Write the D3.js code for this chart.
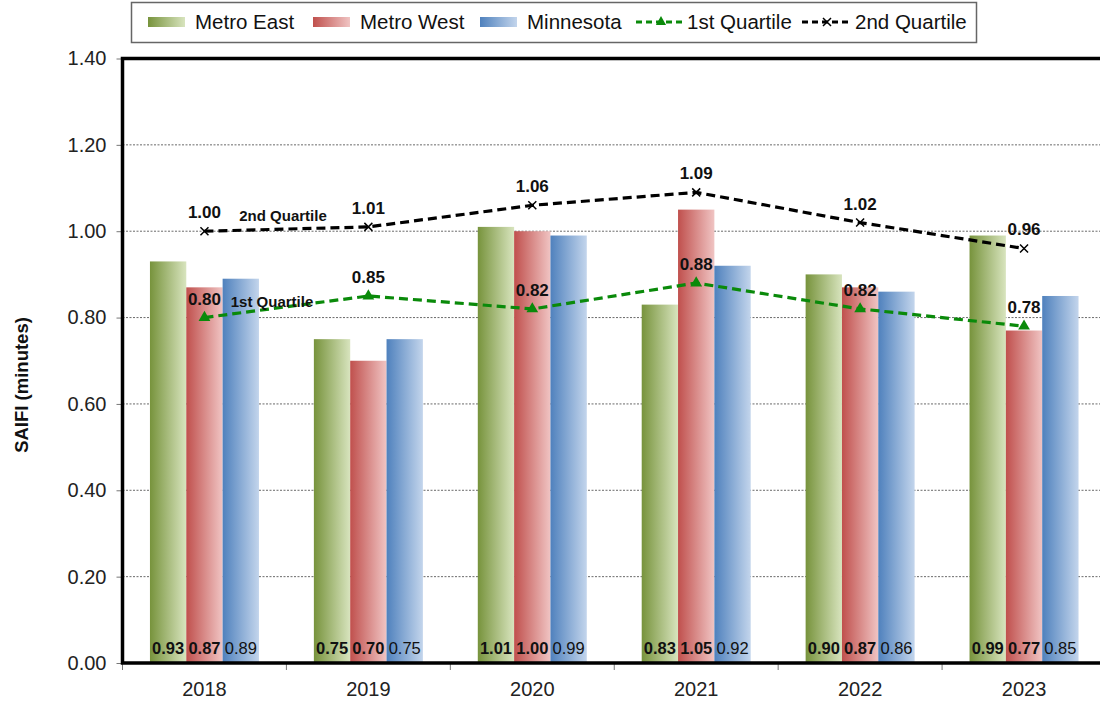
<!DOCTYPE html>
<html>
<head>
<meta charset="utf-8">
<script src="https://cdn.jsdelivr.net/npm/d3@7"></script>
<style>
  html, body { margin: 0; padding: 0; background: #fff; }
  svg { display: block; }
  text { font-family: "Liberation Sans", Arial, sans-serif; }
</style>
</head>
<body>
<svg id="chart" width="1100" height="702"></svg>
<script>
// SAIFI by year for the metro service areas and the state
const years = ["2018", "2019", "2020", "2021", "2022", "2023"];
const metroEast = [0.93, 0.75, 1.01, 0.83, 0.90, 0.99];
const metroWest = [0.87, 0.70, 1.00, 1.05, 0.87, 0.77];
const minnesota = [0.89, 0.75, 0.99, 0.92, 0.86, 0.85];
const quartile1 = [0.80, 0.85, 0.82, 0.88, 0.82, 0.78];
const quartile2 = [1.00, 1.01, 1.06, 1.09, 1.02, 0.96];
const yTicks = [0, 0.2, 0.4, 0.6, 0.8, 1.0, 1.2, 1.4];
const seriesNames = ["Metro East", "Metro West", "Minnesota"];
const seriesValues = [metroEast, metroWest, minnesota];

const svg = d3.select("#chart");
const plot = { left: 122.5, right: 1106, top: 58.5, bottom: 663 };

const x = d3.scaleBand().domain(years).range([plot.left, plot.right]).padding(0);
const bw = x.bandwidth();
const groupW = 109;
const xSub = d3.scaleBand().domain(seriesNames).range([(bw - groupW) / 2, (bw + groupW) / 2]).padding(0);
const y = d3.scaleLinear().domain([0, 1.4]).range([plot.bottom, plot.top]);

// bar fills: dark on the left fading to light on the right
const fills = [
  { id: "gEast", dark: "#77933C", light: "#D8E4BE" },
  { id: "gWest", dark: "#C0504D", light: "#F0C4C3" },
  { id: "gMn",   dark: "#4F81BD", light: "#C3D5EC" }
];
const defs = svg.append("defs");
fills.forEach(f => {
  const g = defs.append("linearGradient").attr("id", f.id)
    .attr("x1", "0%").attr("x2", "100%").attr("y1", "0%").attr("y2", "0%");
  g.append("stop").attr("offset", "0%").attr("stop-color", f.dark);
  g.append("stop").attr("offset", "100%").attr("stop-color", f.light);
});

// gridlines
svg.append("g").selectAll("line")
  .data(yTicks.filter(t => t > 0 && t < 1.4))
  .join("line")
  .attr("x1", plot.left).attr("x2", plot.right)
  .attr("y1", d => y(d)).attr("y2", d => y(d))
  .attr("stroke", "#444").attr("stroke-width", 0.8)
  .attr("stroke-dasharray", "2,1.5");

// left axis ticks and labels
const yAxis = svg.append("g")
  .attr("transform", `translate(${plot.left},0)`)
  .call(d3.axisLeft(y).tickValues(yTicks).tickFormat(d3.format(".2f")).tickSize(6).tickPadding(10));
yAxis.select(".domain").remove();
yAxis.selectAll(".tick line").attr("stroke", "#777");
yAxis.selectAll(".tick text")
  .attr("font-size", 20).attr("fill", "#222")
  .attr("font-family", "'Liberation Sans', Arial, sans-serif");

// bottom axis: category ticks at band edges and year labels
svg.append("g").selectAll("line")
  .data(d3.range(years.length + 1))
  .join("line")
  .attr("x1", i => plot.left + i * bw).attr("x2", i => plot.left + i * bw)
  .attr("y1", plot.bottom).attr("y2", plot.bottom + 7)
  .attr("stroke", "#777").attr("stroke-width", 1);
svg.append("g").selectAll("text")
  .data(years)
  .join("text")
  .attr("x", d => x(d) + bw / 2).attr("y", 696)
  .attr("text-anchor", "middle").attr("font-size", 20).attr("fill", "#222")
  .text(d => d);

// bars
const groups = svg.append("g").selectAll("g")
  .data(years)
  .join("g")
  .attr("transform", d => `translate(${x(d)},0)`);
seriesNames.forEach((name, si) => {
  groups.append("rect")
    .attr("x", xSub(name))
    .attr("width", xSub.bandwidth())
    .attr("y", (d, i) => y(seriesValues[si][i]))
    .attr("height", (d, i) => plot.bottom - y(seriesValues[si][i]))
    .attr("fill", `url(#${fills[si].id})`);
  groups.append("text")
    .attr("x", xSub(name) + xSub.bandwidth() / 2)
    .attr("y", 654)
    .attr("text-anchor", "middle")
    .attr("font-size", 16.5)
    .attr("font-weight", si < 2 ? "bold" : "normal")
    .attr("fill", "#111")
    .text((d, i) => seriesValues[si][i].toFixed(2));
});

// quartile lines
const cx = d => x(d) + bw / 2;
const line = d3.line().x(d => cx(d.year)).y(d => y(d.v));
function drawQuartile(values, color, marker) {
  const pts = years.map((yr, i) => ({ year: yr, v: values[i] }));
  svg.append("path").datum(pts)
    .attr("d", line)
    .attr("fill", "none").attr("stroke", color)
    .attr("stroke-width", 3.2).attr("stroke-dasharray", "9,5");
  const m = svg.append("g").selectAll("g").data(pts).join("g")
    .attr("transform", d => `translate(${cx(d.year)},${y(d.v)})`);
  if (marker === "triangle") {
    m.append("path").attr("d", d3.symbol(d3.symbolTriangle, 60))
      .attr("fill", color);
  } else {
    m.append("path").attr("d", "M-4,-4L4,4M-4,4L4,-4")
      .attr("stroke", color).attr("stroke-width", 1.5);
  }
  svg.append("g").selectAll("text").data(pts).join("text")
    .attr("x", d => cx(d.year)).attr("y", d => y(d.v) - 13)
    .attr("text-anchor", "middle")
    .attr("font-family", "Lato, 'Open Sans', sans-serif")
    .attr("font-weight", "bold").attr("font-size", 17).attr("fill", "#111")
    .text(d => d.v.toFixed(2));
}
drawQuartile(quartile1, "#0A8A0A", "triangle");
drawQuartile(quartile2, "#000", "x");

// in-chart series captions
svg.append("text").attr("x", 283).attr("y", 221)
  .attr("text-anchor", "middle")
  .attr("font-family", "Lato, 'Open Sans', sans-serif")
  .attr("font-weight", "bold").attr("font-size", 15).attr("fill", "#111")
  .text("2nd Quartile");
svg.append("text").attr("x", 272).attr("y", 307)
  .attr("text-anchor", "middle")
  .attr("font-family", "Lato, 'Open Sans', sans-serif")
  .attr("font-weight", "bold").attr("font-size", 15).attr("fill", "#111")
  .text("1st Quartile");

// plot frame (thick top, left, bottom)
svg.append("path")
  .attr("d", `M${plot.right + 5},${plot.top}H${plot.left}V${plot.bottom}H${plot.right + 5}`)
  .attr("fill", "none").attr("stroke", "#000").attr("stroke-width", 3.5);

// y-axis title
svg.append("text")
  .attr("transform", "translate(28,385) rotate(-90)")
  .attr("text-anchor", "middle").attr("font-size", 18.5).attr("font-weight", "bold")
  .attr("fill", "#111")
  .text("SAIFI (minutes)");

// legend
const lg = svg.append("g");
lg.append("rect").attr("x", 131.5).attr("y", 2.5).attr("width", 845).attr("height", 40)
  .attr("fill", "#fff").attr("stroke", "#666").attr("stroke-width", 1.5);
const legendItems = [
  { type: "bar", fill: "gEast", label: seriesNames[0], x: 148, tx: 195 },
  { type: "bar", fill: "gWest", label: seriesNames[1], x: 313, tx: 360 },
  { type: "bar", fill: "gMn", label: seriesNames[2], x: 480, tx: 527 },
  { type: "line", color: "#0A8A0A", marker: "triangle", label: "1st Quartile", x: 636, tx: 687 },
  { type: "line", color: "#000", marker: "x", label: "2nd Quartile", x: 802, tx: 855 }
];
legendItems.forEach(it => {
  if (it.type === "bar") {
    lg.append("rect").attr("x", it.x).attr("y", 17).attr("width", 37).attr("height", 10)
      .attr("fill", `url(#${it.fill})`);
  } else {
    lg.append("line").attr("x1", it.x).attr("x2", it.x + 50).attr("y1", 22).attr("y2", 22)
      .attr("stroke", it.color).attr("stroke-width", 3).attr("stroke-dasharray", "6,4");
    const mk = lg.append("g").attr("transform", `translate(${it.x + 25},22)`);
    if (it.marker === "triangle") {
      mk.append("path").attr("d", d3.symbol(d3.symbolTriangle, 45)).attr("fill", it.color);
    } else {
      mk.append("path").attr("d", "M-4,-4L4,4M-4,4L4,-4").attr("stroke", it.color).attr("stroke-width", 1.5);
    }
  }
  lg.append("text").attr("x", it.tx).attr("y", 29).attr("font-size", 20.5).attr("fill", "#111")
    .text(it.label);
});
</script>
</body>
</html>
